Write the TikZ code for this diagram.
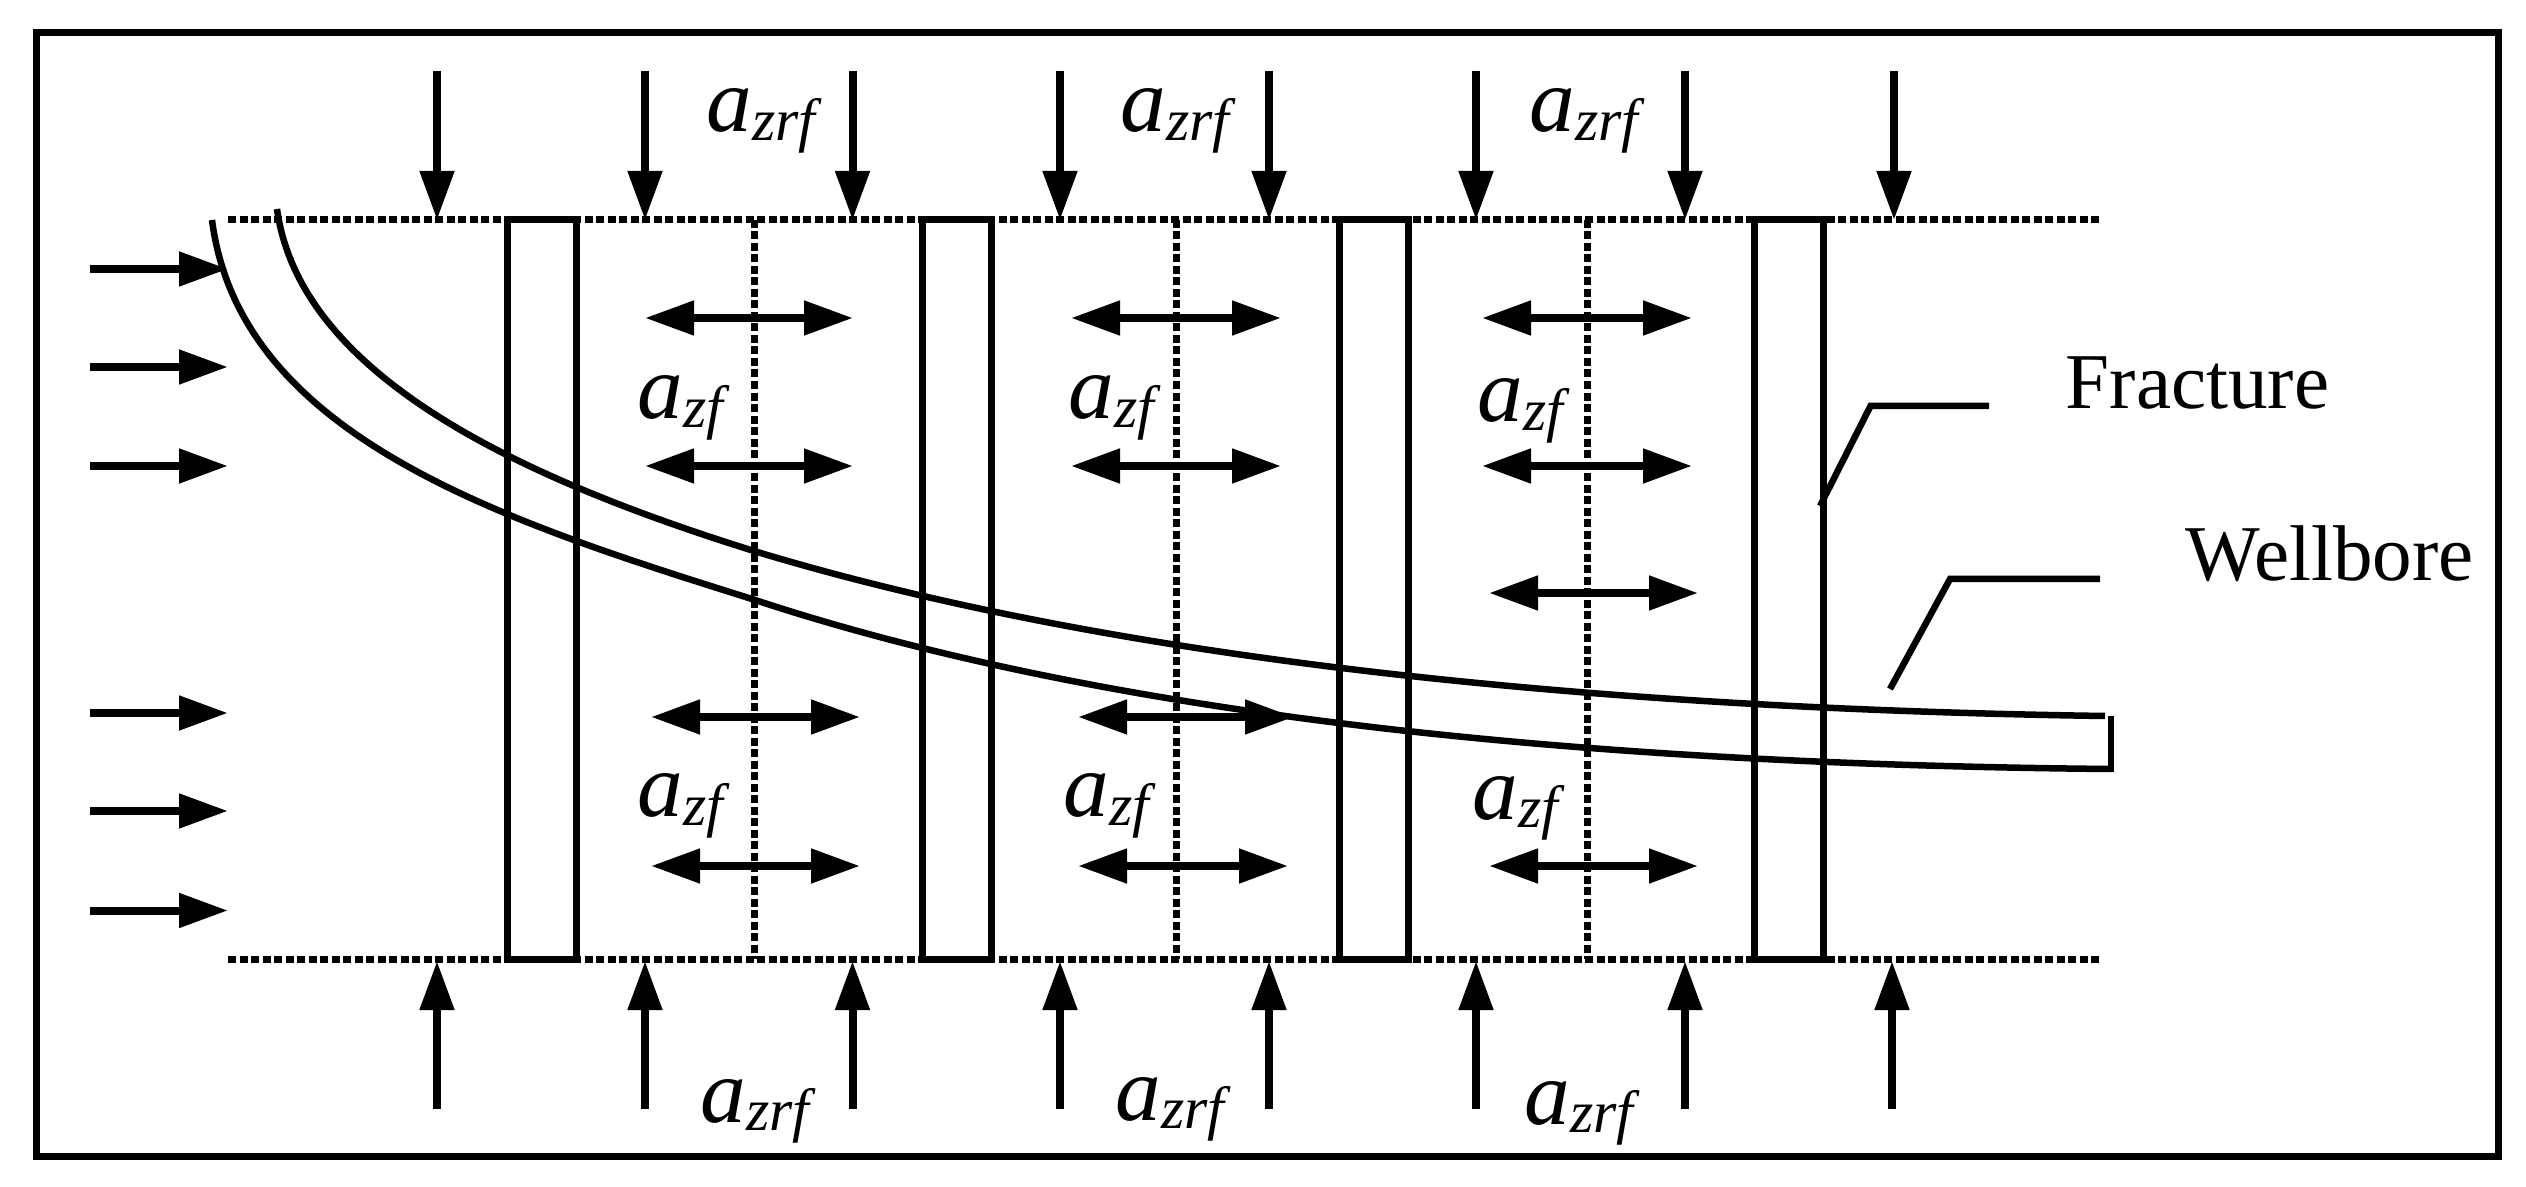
\documentclass[tikz,border=0pt]{standalone}
\usepackage{fontspec}
\setmainfont{Liberation Serif}
\usepackage{tikz}
\usetikzlibrary{arrows.meta}
\newcommand{\asub}[1]{\textit{a\raisebox{-2.5pt}{\fontsize{17}{17}\selectfont #1}}}
\tikzset{
    force/.style={line width=0.08cm, -{Triangle[length=0.49cm, width=0.33cm]}},
    stretch/.style={line width=0.08cm, {Triangle[length=0.49cm, width=0.33cm]}-{Triangle[length=0.49cm, width=0.33cm]}},
    zone/.style={line width=0.07cm, dash pattern=on 0.08cm off 0.035cm},
    thin line/.style={line width=0.065cm},
    fracture/.style={draw, line width=0.07cm, minimum width=0.69cm, minimum height=7.39cm, inner sep=0pt},
    azlabel/.style={anchor=base west, inner sep=0pt, font=\fontsize{26}{26}\selectfont},
    tag/.style={anchor=base west, inner sep=0pt, font=\fontsize{22.5}{22.5}\selectfont}
}

\begin{document}
\begin{tikzpicture}
    \useasboundingbox (0,0) rectangle (25.26,11.86);
    \draw[line width=0.07cm] (0.36,11.53) rectangle (24.98,0.30);

    \draw[zone] (2.28,9.66) -- (20.99,9.66);
    \draw[zone] (2.28,2.27) -- (20.99,2.27);
    \draw[zone] (7.545,9.66) -- (7.545,2.27);
    \draw[zone] (11.76,9.66) -- (11.76,2.27);
    \draw[zone] (15.87,9.66) -- (15.87,2.27);

    \node(F1)[fracture] at (5.415,5.965) {};
    \node(F2)[fracture] at (9.565,5.965) {};
    \node(F3)[fracture] at (13.735,5.965) {};
    \node(F4)[fracture] at (17.885,5.965) {};

    % wellbore
    \draw[thin line] (2.12,9.66) .. controls (2.4,7.5) and (5.0,6.66) .. (7.52,5.87) .. controls (10.9,4.75) and (15.5,4.22) .. (21.11,4.17);
    \draw[thin line] (2.77,9.77) .. controls (3.0,8.1) and (5.2,7.08) .. (7.54,6.35) .. controls (10.9,5.33) and (15.5,4.78) .. (21.05,4.70);
    \draw[thin line] (21.11,4.70) -- (21.11,4.14);

    % top arrows
    \draw[force] (4.37,11.15) -- (4.37,9.66);
    \draw[force] (6.45,11.15) -- (6.45,9.66);
    \draw[force] (8.525,11.15) -- (8.525,9.66);
    \draw[force] (10.60,11.15) -- (10.60,9.66);
    \draw[force] (12.69,11.15) -- (12.69,9.66);
    \draw[force] (14.76,11.15) -- (14.76,9.66);
    \draw[force] (16.85,11.15) -- (16.85,9.66);
    \draw[force] (18.94,11.15) -- (18.94,9.66);

    % bottom arrows
    \draw[force] (4.37,0.77) -- (4.37,2.25);
    \draw[force] (6.45,0.77) -- (6.45,2.25);
    \draw[force] (8.525,0.77) -- (8.525,2.25);
    \draw[force] (10.60,0.77) -- (10.60,2.25);
    \draw[force] (12.69,0.77) -- (12.69,2.25);
    \draw[force] (14.76,0.77) -- (14.76,2.25);
    \draw[force] (16.85,0.77) -- (16.85,2.25);
    \draw[force] (18.92,0.77) -- (18.92,2.25);

    % left arrows
    \draw[force] (0.90,9.17) -- (2.28,9.17);
    \draw[force] (0.90,8.19) -- (2.28,8.19);
    \draw[force] (0.90,7.20) -- (2.28,7.20);
    \draw[force] (0.90,4.73) -- (2.28,4.73);
    \draw[force] (0.90,3.75) -- (2.28,3.75);
    \draw[force] (0.90,2.755) -- (2.28,2.755);

    % stretching between the fractures
    \draw[stretch] (6.45,8.68) -- (8.53,8.68);
    \draw[stretch] (6.45,7.20) -- (8.53,7.20);
    \draw[stretch] (6.51,4.69) -- (8.60,4.69);
    \draw[stretch] (6.51,3.20) -- (8.60,3.20);
    \draw[stretch] (10.71,8.68) -- (12.81,8.68);
    \draw[stretch] (10.71,7.20) -- (12.81,7.20);
    \draw[stretch] (10.78,4.69) -- (12.94,4.69);
    \draw[stretch] (10.78,3.20) -- (12.88,3.20);
    \draw[stretch] (14.82,8.68) -- (16.92,8.68);
    \draw[stretch] (14.82,7.20) -- (16.92,7.20);
    \draw[stretch] (14.89,5.93) -- (16.98,5.93);
    \draw[stretch] (14.89,3.20) -- (16.98,3.20);

    \node(zrf1)[azlabel] at (7.06,10.54) {\asub{zrf}};
    \node(zrf2)[azlabel] at (11.20,10.54) {\asub{zrf}};
    \node(zrf3)[azlabel] at (15.29,10.54) {\asub{zrf}};
    \node(zrf4)[azlabel] at (7.00,0.64) {\asub{zrf}};
    \node(zrf5)[azlabel] at (11.15,0.66) {\asub{zrf}};
    \node(zrf6)[azlabel] at (15.24,0.62) {\asub{zrf}};
    \node(zf1)[azlabel] at (6.37,7.67) {\asub{zf}};
    \node(zf2)[azlabel] at (10.68,7.67) {\asub{zf}};
    \node(zf3)[azlabel] at (14.77,7.64) {\asub{zf}};
    \node(zf4)[azlabel] at (6.37,3.69) {\asub{zf}};
    \node(zf5)[azlabel] at (10.63,3.69) {\asub{zf}};
    \node(zf6)[azlabel] at (14.72,3.67) {\asub{zf}};

    \node(frac)[tag] at (20.65,7.77) {Fracture};
    \node(well)[tag] at (21.85,6.05) {Wellbore};

    \coordinate(f0) at (19.89,7.80);
    \coordinate(f1) at (18.705,7.80);
    \coordinate(f2) at (18.20,6.80);
    \coordinate(w0) at (21.00,6.07);
    \coordinate(w1) at (19.50,6.07);
    \coordinate(w2) at (18.90,4.97);
    \draw[thin line] (f0) -- (f1) -- (f2);
    \draw[thin line] (w0) -- (w1) -- (w2);
    \end{tikzpicture}
\end{document}
